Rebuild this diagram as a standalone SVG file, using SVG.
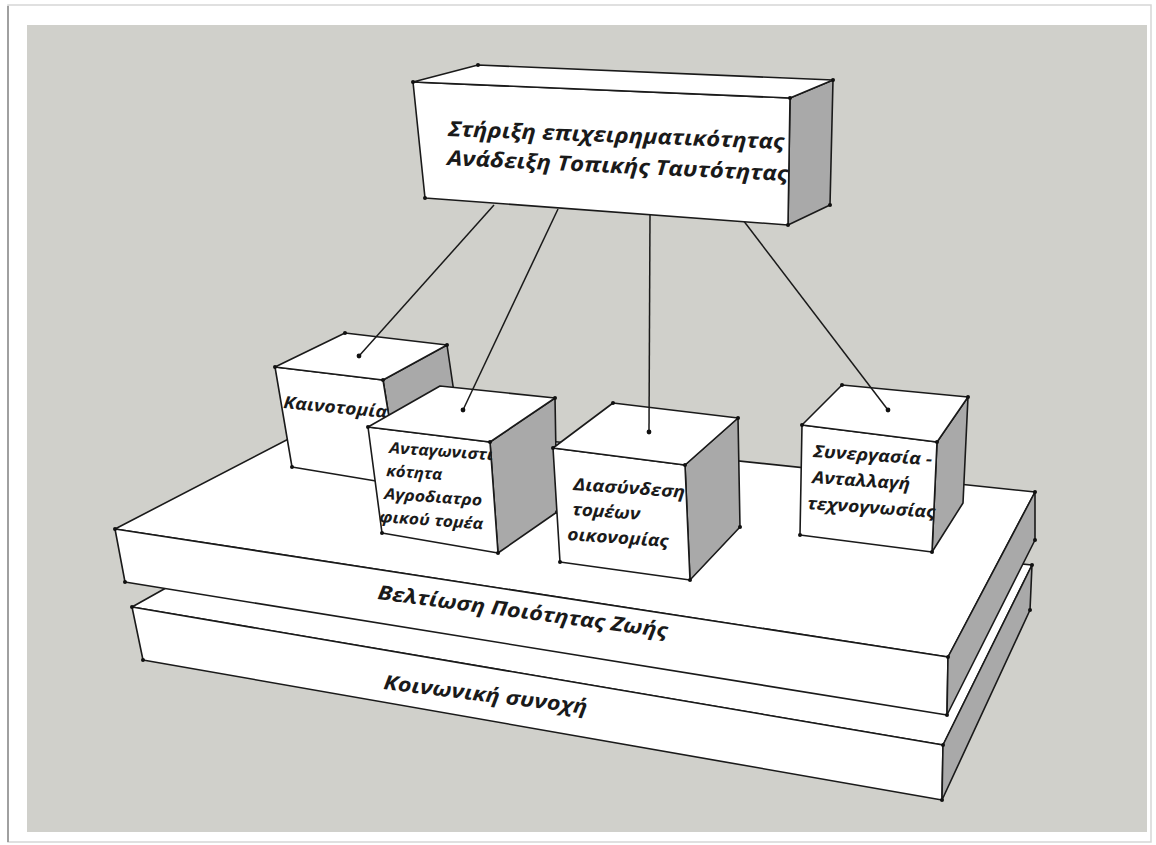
<svg xmlns="http://www.w3.org/2000/svg" width="1156" height="845" viewBox="0 0 1156 845">
<style>
.face{fill:#ffffff;stroke:#1a1a1a;stroke-width:1.6;stroke-linejoin:round}
.side{fill:#a9a9a9;stroke:#1a1a1a;stroke-width:1.6;stroke-linejoin:round}
.lbl{font-family:"Open Sans","Noto Sans","DejaVu Sans",sans-serif;font-weight:bold;font-style:italic;fill:#1a1a1a}
.dot{fill:#111}
.conn{stroke:#1a1a1a;stroke-width:1.5;fill:none}
</style>
<rect x="0" y="0" width="1156" height="845" fill="#ffffff"/>
<rect x="8" y="5" width="1143" height="837" fill="#ffffff" stroke="#d6d6d6" stroke-width="1.5"/>
<line x1="8" y1="6" x2="8" y2="842" stroke="#a0a0a0" stroke-width="2"/>
<rect x="27" y="25" width="1120" height="807" fill="#d0d0cb"/>

<g id="slab-social">
<polygon class="face" points="132,607 330,496 1032,565 943,745"/>
<polygon class="face" points="132,607 943,745 942,800 143,660"/>
<polygon class="side" points="943,745 1032,565 1030,610 942,800"/>
<text class="lbl" x="383" y="689" font-size="20" textLength="205" lengthAdjust="spacingAndGlyphs" transform="rotate(7 383 689)">Κοινωνική συνοχή</text>
<circle class="dot" cx="132" cy="607" r="2"/><circle class="dot" cx="943" cy="745" r="2"/><circle class="dot" cx="942" cy="800" r="2"/><circle class="dot" cx="143" cy="660" r="2"/><circle class="dot" cx="1032" cy="565" r="2"/><circle class="dot" cx="1030" cy="610" r="2"/>
</g>

<g id="slab-quality">
<polygon class="face" points="115,529 329,418 1035,492 948,657"/>
<polygon class="face" points="115,529 948,657 947,715 125,582"/>
<polygon class="side" points="948,657 1035,492 1035,540 947,715"/>
<text class="lbl" x="377" y="599" font-size="20" textLength="292" lengthAdjust="spacingAndGlyphs" transform="rotate(7.6 377 599)">Βελτίωση Ποιότητας Ζωής</text>
<circle class="dot" cx="115" cy="529" r="2"/><circle class="dot" cx="948" cy="657" r="2"/><circle class="dot" cx="947" cy="715" r="2"/><circle class="dot" cx="125" cy="582" r="2"/><circle class="dot" cx="1035" cy="492" r="2"/><circle class="dot" cx="1035" cy="540" r="2"/>
</g>

<g id="box-innovation">
<polygon class="side" points="383,380 447,345 462,447 400,485"/>
<polygon class="face" points="275,367 383,380 400,485 292,467"/>
<polygon class="face" points="275,367 345,333 447,345 383,380"/>
<text class="lbl" x="283" y="408" font-size="17" textLength="104" lengthAdjust="spacingAndGlyphs" transform="rotate(5.5 283 408)">Καινοτομία</text>
<circle class="dot" cx="275" cy="367" r="2"/><circle class="dot" cx="345" cy="333" r="2"/><circle class="dot" cx="447" cy="345" r="2"/><circle class="dot" cx="383" cy="380" r="2"/><circle class="dot" cx="292" cy="467" r="2"/>
</g>

<g id="box-competitiveness">
<polygon class="side" points="490,442 555,398 557,512 498,553"/>
<polygon class="face" points="368,427 490,442 498,553 382,533"/>
<polygon class="face" points="368,427 440,386 555,398 490,442"/>
<text class="lbl" x="389" y="453" font-size="15.5" textLength="104" lengthAdjust="spacingAndGlyphs" transform="rotate(4 389 453)">Ανταγωνιστι</text>
<text class="lbl" x="386" y="476" font-size="15.5" textLength="56" lengthAdjust="spacingAndGlyphs" transform="rotate(4 386 476)">κότητα</text>
<text class="lbl" x="384" y="499" font-size="15.5" textLength="98" lengthAdjust="spacingAndGlyphs" transform="rotate(4 384 499)">Αγροδιατρο</text>
<text class="lbl" x="379" y="522" font-size="15.5" textLength="104" lengthAdjust="spacingAndGlyphs" transform="rotate(4 379 522)">φικού τομέα</text>
<circle class="dot" cx="368" cy="427" r="2"/><circle class="dot" cx="555" cy="398" r="2"/><circle class="dot" cx="490" cy="442" r="2"/><circle class="dot" cx="498" cy="553" r="2"/><circle class="dot" cx="382" cy="533" r="2"/><circle class="dot" cx="557" cy="512" r="2"/>
</g>

<g id="box-linkage">
<polygon class="side" points="685,465 738,418 740,527 690,580"/>
<polygon class="face" points="553,448 685,465 690,580 560,562"/>
<polygon class="face" points="553,448 613,403 738,418 685,465"/>
<text class="lbl" x="573" y="490" font-size="17" textLength="112" lengthAdjust="spacingAndGlyphs" transform="rotate(4 573 490)">Διασύνδεση</text>
<text class="lbl" x="572" y="515" font-size="17" textLength="68" lengthAdjust="spacingAndGlyphs" transform="rotate(4 572 515)">τομέων</text>
<text class="lbl" x="567" y="540" font-size="17" textLength="101" lengthAdjust="spacingAndGlyphs" transform="rotate(4 567 540)">οικονομίας</text>
<circle class="dot" cx="553" cy="448" r="2"/><circle class="dot" cx="613" cy="403" r="2"/><circle class="dot" cx="738" cy="418" r="2"/><circle class="dot" cx="685" cy="465" r="2"/><circle class="dot" cx="690" cy="580" r="2"/><circle class="dot" cx="560" cy="562" r="2"/><circle class="dot" cx="740" cy="527" r="2"/>
</g>

<g id="box-cooperation">
<polygon class="side" points="937,442 968,397 963,503 932,552"/>
<polygon class="face" points="802,425 937,442 932,552 800,535"/>
<polygon class="face" points="802,425 842,385 968,397 937,442"/>
<text class="lbl" x="813" y="457" font-size="17" textLength="119" lengthAdjust="spacingAndGlyphs" transform="rotate(4 813 457)">Συνεργασία -</text>
<text class="lbl" x="812" y="483" font-size="17" textLength="98" lengthAdjust="spacingAndGlyphs" transform="rotate(4 812 483)">Ανταλλαγή</text>
<text class="lbl" x="807" y="509" font-size="17" textLength="128" lengthAdjust="spacingAndGlyphs" transform="rotate(4 807 509)">τεχνογνωσίας</text>
<circle class="dot" cx="802" cy="425" r="2"/><circle class="dot" cx="842" cy="385" r="2"/><circle class="dot" cx="968" cy="397" r="2"/><circle class="dot" cx="937" cy="442" r="2"/><circle class="dot" cx="932" cy="552" r="2"/><circle class="dot" cx="800" cy="535" r="2"/>
</g>

<g id="connectors">
<line class="conn" x1="494" y1="205" x2="359" y2="356"/>
<line class="conn" x1="558" y1="209" x2="463" y2="410"/>
<line class="conn" x1="650" y1="214" x2="649" y2="432"/>
<line class="conn" x1="743" y1="220" x2="888" y2="410"/>
<circle class="dot" cx="359" cy="356" r="2.4"/>
<circle class="dot" cx="463" cy="410" r="2.4"/>
<circle class="dot" cx="649" cy="432" r="2.4"/>
<circle class="dot" cx="888" cy="410" r="2.4"/>
</g>

<g id="box-top">
<polygon class="side" points="790,98 833,80 830,205 788,225"/>
<polygon class="face" points="413,82 790,98 788,225 425,198"/>
<polygon class="face" points="413,82 478,65 833,80 790,98"/>
<text class="lbl" x="448" y="136" font-size="21" textLength="336" lengthAdjust="spacingAndGlyphs" transform="rotate(2.2 448 136)">Στήριξη επιχειρηματικότητας</text>
<text class="lbl" x="447" y="165" font-size="21" textLength="341" lengthAdjust="spacingAndGlyphs" transform="rotate(2.7 447 165)">Ανάδειξη Τοπικής Ταυτότητας</text>
<circle class="dot" cx="413" cy="82" r="2"/><circle class="dot" cx="478" cy="65" r="2"/><circle class="dot" cx="833" cy="80" r="2"/><circle class="dot" cx="790" cy="98" r="2"/><circle class="dot" cx="788" cy="225" r="2"/><circle class="dot" cx="425" cy="198" r="2"/><circle class="dot" cx="830" cy="205" r="2"/>
</g>
</svg>
